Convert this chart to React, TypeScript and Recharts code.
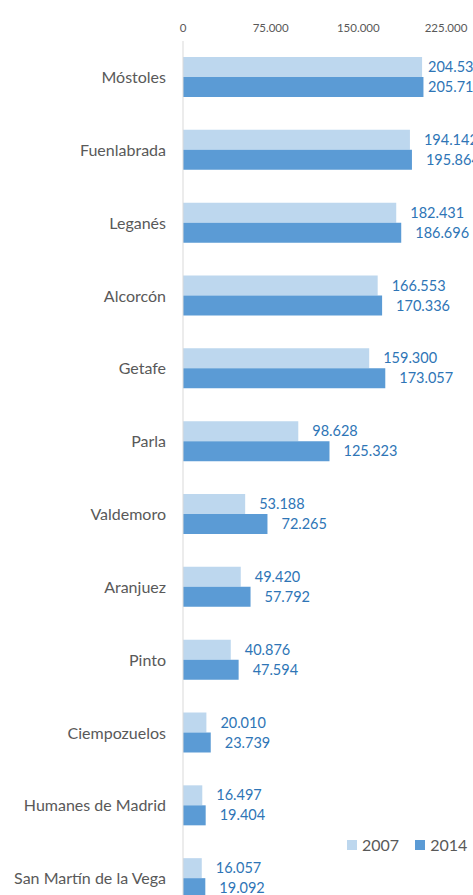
import { BarChart, Bar, XAxis, YAxis, LabelList } from 'recharts';

const municipios = [
  'Móstoles', 'Fuenlabrada', 'Leganés', 'Alcorcón', 'Getafe', 'Parla',
  'Valdemoro', 'Aranjuez', 'Pinto', 'Ciempozuelos', 'Humanes de Madrid', 'San Martín de la Vega',
];
const pob2007 = [204535, 194142, 182431, 166553, 159300, 98628, 53188, 49420, 40876, 20010, 16497, 16057];
const pob2014 = [205712, 195864, 186696, 170336, 173057, 125323, 72265, 57792, 47594, 23739, 19404, 19092];
const xTicks = [0, 75000, 150000, 225000];

const LIGHT = '#BDD7EE';
const DARK = '#5B9BD5';
const FONT = 'Lato, sans-serif';

const fmt = (v: number) => String(Math.round(v)).replace(/\B(?=(\d{3})+(?!\d))/g, '.');

const data = municipios.map((m, i) => ({ name: m, y2007: pob2007[i], y2014: pob2014[i] }));

function ValueLabel(props: any) {
  const { x, y, width, height, value } = props;
  // excel pulls the widest labels back inside the plot
  const lx = Math.min(x + width + 14, 428);
  return (
    <text x={lx} y={y + height / 2} dy="0.35em" fill="#2E75B6" fontSize={14.5} fontFamily={FONT}>
      {fmt(value)}
    </text>
  );
}

function LegendBox() {
  const item = (color: string, label: string) => (
    <span style={{ display: 'inline-flex', alignItems: 'center', marginRight: 16 }}>
      <span style={{ width: 10, height: 10, background: color, display: 'inline-block', marginRight: 5 }} />
      <span>{label}</span>
    </span>
  );
  return (
    <div style={{ position: 'absolute', left: 347, top: 835, fontFamily: FONT, fontSize: 16, color: '#595959', display: 'flex', whiteSpace: 'nowrap' }}>
      {item(LIGHT, '2007')}
      {item(DARK, '2014')}
    </div>
  );
}

export default function App() {
  return (
    <div style={{ position: 'absolute', left: 0, top: 0, width: 473, height: 895, overflow: 'hidden', background: '#fff' }}>
      <BarChart
        width={473}
        height={920}
        data={data}
        layout="vertical"
        margin={{ top: 0, right: 27, bottom: 5, left: 0 }}
        barSize={20}
        barGap={0}
      >
        <XAxis
          type="number"
          orientation="top"
          domain={[0, 225000]}
          ticks={xTicks}
          tickFormatter={fmt}
          height={41}
          axisLine={false}
          tickLine={false}
          tickMargin={3}
          tick={{ fill: '#595959', fontSize: 11.5, fontFamily: FONT }}
        />
        <YAxis
          type="category"
          dataKey="name"
          width={183}
          axisLine={{ stroke: '#D9D9D9' }}
          tickLine={false}
          tickMargin={11}
          tick={{ fill: '#595959', fontSize: 16, fontFamily: FONT }}
          interval={0}
        />
        <Bar dataKey="y2007" name="2007" fill={LIGHT} isAnimationActive={false}>
          <LabelList dataKey="y2007" content={ValueLabel} />
        </Bar>
        <Bar dataKey="y2014" name="2014" fill={DARK} isAnimationActive={false}>
          <LabelList dataKey="y2014" content={ValueLabel} />
        </Bar>
      </BarChart>
      <LegendBox />
    </div>
  );
}
